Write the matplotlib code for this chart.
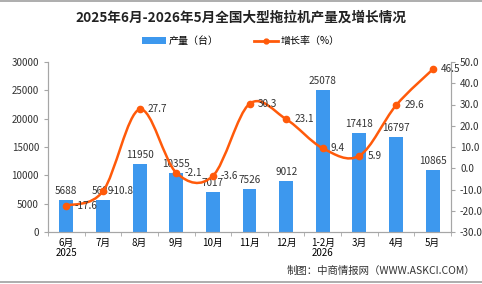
import matplotlib
matplotlib.use("Agg")
import matplotlib.pyplot as plt
from matplotlib.path import Path
from matplotlib.patches import PathPatch, Patch
from matplotlib.lines import Line2D
import numpy as np

plt.rcParams['font.family'] = ['Noto Sans CJK SC', 'DejaVu Sans']

# data
months = ["6月\n2025", "7月", "8月", "9月", "10月", "11月", "12月",
          "1-2月\n2026", "3月", "4月", "5月"]
output = [5688, 5689, 11950, 10355, 7017, 7526, 9012, 25078, 17418, 16797, 10865]
growth = [-17.6, -10.8, 27.7, -2.1, -3.6, 30.3, 23.1, 9.4, 5.9, 29.6, 46.5]

bar_color = "#3D98EE"
line_color = "#FF5A0A"
axis_color = "#A6A6A6"
txt = "#333333"

fig = plt.figure(figsize=(4.82, 2.84), dpi=100)
ax = fig.add_axes([48/482, 1-232/284, (451-48)/482, 170/284])
ax2 = ax.twinx()

x = np.arange(len(months))
ax.bar(x, output, width=0.38, color=bar_color, zorder=2)
ax.set_xlim(-0.5, len(months)-0.5)
ax.set_ylim(0, 30000)
ax.set_yticks(range(0, 30001, 5000))
ax2.set_ylim(-30, 50)
ax2.set_yticks(range(-30, 51, 10))
ax2.set_yticklabels(["%.1f" % v for v in range(-30, 51, 10)])

# smooth line through the growth points (Catmull-Rom as bezier segments)
verts = [(x[0], growth[0])]
codes = [Path.MOVETO]
n = len(x)
for i in range(n-1):
    p0 = np.array([x[max(i-1, 0)], growth[max(i-1, 0)]])
    p1 = np.array([x[i], growth[i]])
    p2 = np.array([x[i+1], growth[i+1]])
    p3 = np.array([x[min(i+2, n-1)], growth[min(i+2, n-1)]])
    c1 = p1 + (p2 - p0) / 6
    c2 = p2 - (p3 - p1) / 6
    verts += [tuple(c1), tuple(c2), tuple(p2)]
    codes += [Path.CURVE4]*3
ax2.add_patch(PathPatch(Path(verts, codes), facecolor="none",
                        edgecolor=line_color, lw=1.8, zorder=3))
ax2.plot(x, growth, "o", color=line_color, ms=4.5, zorder=4)

for xi, v in zip(x, output):
    ax.text(xi, v + 700, str(v), ha="center", va="bottom", fontsize=7.2, color=txt)
for xi, v in zip(x, growth):
    ax2.text(xi + 0.22, v, "%.1f" % v, ha="left", va="center", fontsize=7.2, color=txt, zorder=5)

ax.set_xticks(x)
ax.set_xticklabels(months, fontsize=7, linespacing=1.05)
ax.set_xticks(np.arange(-0.5, n, 1), minor=True)
ax.tick_params(axis="x", which="major", length=0, pad=4)
ax.tick_params(axis="x", which="minor", length=3, color=axis_color)
ax.tick_params(axis="y", labelsize=7, length=3, color=axis_color, labelcolor=txt)
ax2.tick_params(axis="y", labelsize=7.2, length=3, color=axis_color, labelcolor=txt)

for a in (ax, ax2):
    a.spines["top"].set_visible(False)
    for s in ("left", "right", "bottom"):
        a.spines[s].set_color(axis_color)
ax2.patch.set_visible(False)

fig.text(0.5, 1-18/284, "2025年6月-2026年5月全国大型拖拉机产量及增长情况",
         ha="center", va="center", fontsize=9.8, fontweight="bold", color="#222222")

handles = [Patch(facecolor=bar_color, edgecolor="none"),
           Line2D([], [], color=line_color, lw=2, marker="o", ms=3.5)]
fig.legend(handles, ["产量（台）", "增长率（%）"], loc="center",
           bbox_to_anchor=(0.5, 1-41/284), ncol=2, frameon=False, fontsize=7.2,
           handlelength=2.4, handleheight=0.6, columnspacing=3.5, handletextpad=0.3)

fig.text(475/482, 1-271/284, "制图：中商情报网（WWW.ASKCI.COM）", ha="right", va="center",
         fontsize=7.5, color=txt)

fig.add_artist(Line2D([0, 1], [0.998, 0.998], color="#A0A0A0", lw=1.2, transform=fig.transFigure))
fig.add_artist(Line2D([0, 1], [0.006, 0.006], color="#A0A0A0", lw=1.2, transform=fig.transFigure))

fig.savefig("out.png", dpi=100)
